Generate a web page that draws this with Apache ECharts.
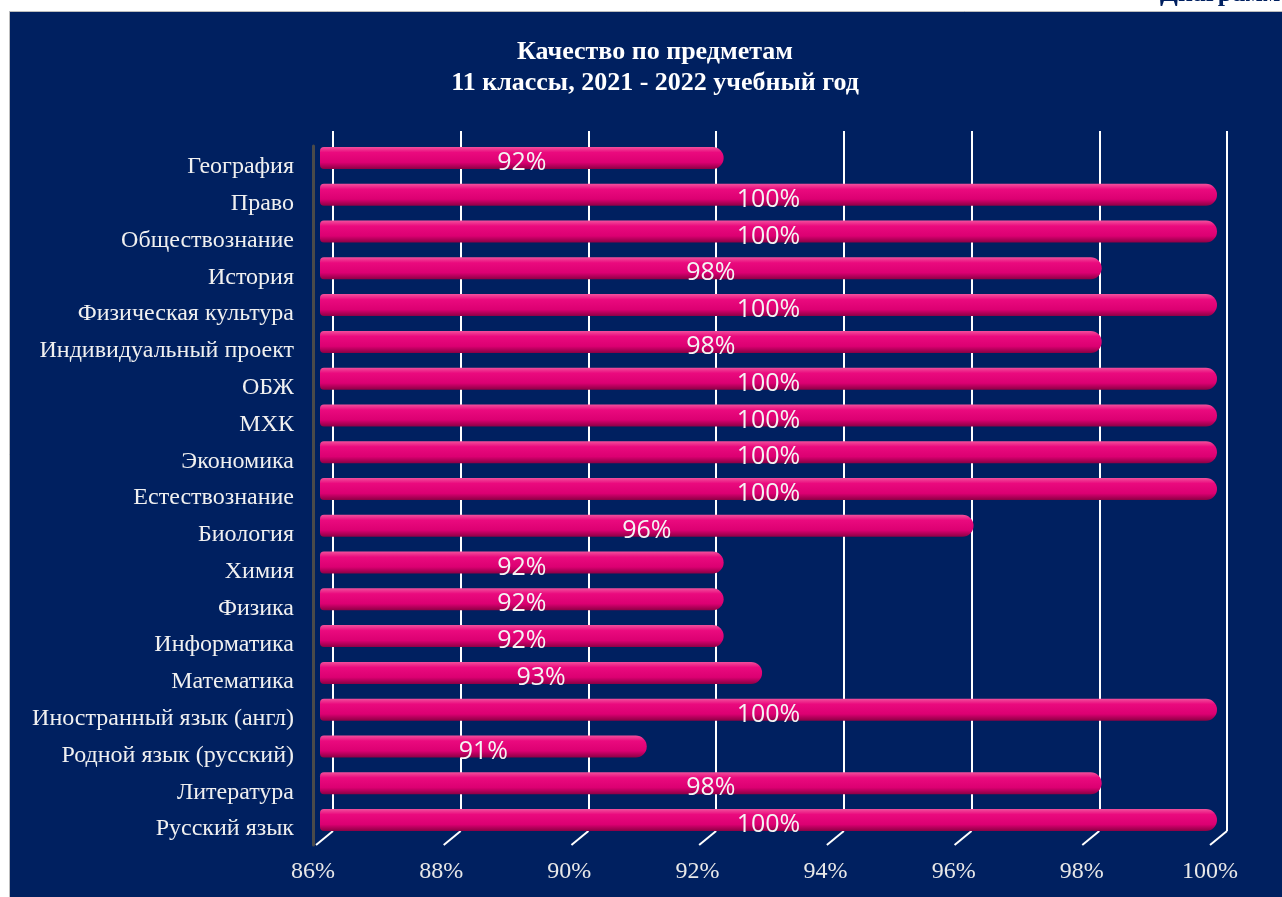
<!DOCTYPE html>
<html>
<head>
<meta charset="utf-8">
<script src="https://cdn.jsdelivr.net/npm/echarts@6/dist/echarts.min.js"></script>
<style>
	html, body { margin: 0; padding: 0; background: #ffffff; }
	#chart { width: 1282px; height: 897px; }
</style>
</head>
<body>
<div id="chart"></div>
<script>
// предметы сверху вниз
var subjects = ['География', 'Право', 'Обществознание', 'История', 'Физическая культура',
	'Индивидуальный проект', 'ОБЖ', 'МХК', 'Экономика', 'Естествознание', 'Биология',
	'Химия', 'Физика', 'Информатика', 'Математика', 'Иностранный язык (англ)',
	'Родной язык (русский)', 'Литература', 'Русский язык'];
// качество, %
var quality = [92.3, 100, 100, 98.2, 100, 98.2, 100, 100, 100, 100, 96.2,
	92.3, 92.3, 92.3, 92.9, 100, 91.1, 98.2, 100];
var axisTicks = [86, 88, 90, 92, 94, 96, 98, 100];

var serif = '"Liberation Serif", "DejaVu Serif", serif';

function loadChart(){
	var chart = echarts.init(document.getElementById('chart'));
	var option = {
		backgroundColor: '#ffffff',
		animation: false,
		title: {
			text: 'Качество по предметам\n11 классы, 2021 - 2022 учебный год',
			left: 650,
			top: 32,
			textAlign: 'center',
			textStyle: {
				color: '#ffffff',
				fontFamily: serif,
				fontWeight: 'bold',
				fontSize: 26,
				lineHeight: 31
			}
		},
		graphic: [
			{
				type: 'rect', z: -10, silent: true,
				shape: { x: 9.5, y: 11.5, width: 1290, height: 900 },
				style: { fill: '#002060', stroke: '#bdbdbd', lineWidth: 1 }
			},
			{
				type: 'text', z: -5, silent: true,
				x: 1160, y: 7,
				style: {
					text: 'Диаграмма',
					fill: '#002060',
					font: 'bold 26px ' + serif,
					textVerticalAlign: 'bottom'
				}
			}
		],
		grid: [
			// полосы
			{ left: 320, width: 897, top: 139.6, height: 698.8 },
			// задняя стенка
			{ left: 333, width: 894, top: 131, height: 700 },
			// передняя ось
			{ left: 313, width: 897, top: 146, height: 699 },
			// подписи предметов (чуть ниже полос)
			{ left: 320, width: 897, top: 148.6, height: 698.8 }
		],
		xAxis: [
			{ gridIndex: 0, type: 'value', min: 86, max: 100, interval: 2, show: false },
			{
				gridIndex: 1, type: 'value', min: 86, max: 100, interval: 2,
				axisLine: { show: false }, axisTick: { show: false }, axisLabel: { show: false },
				splitLine: { show: true, showMinLine: true, showMaxLine: true, lineStyle: { color: '#ffffff', width: 2 } }
			},
			{
				gridIndex: 2, type: 'value', min: 86, max: 100, interval: 2,
				axisLine: { show: false }, axisTick: { show: false }, splitLine: { show: false },
				axisLabel: {
					margin: 15,
					color: '#e8e8e8',
					fontFamily: serif,
					fontSize: 24,
					formatter: '{value}%'
				}
			},
			{ gridIndex: 3, type: 'value', min: 86, max: 100, interval: 2, show: false }
		],
		yAxis: [
			{ gridIndex: 0, type: 'category', inverse: true, data: subjects, show: false },
			{ gridIndex: 1, type: 'value', min: 0, max: 1, show: false },
			{
				gridIndex: 2, type: 'value', min: 0, max: 1,
				axisLine: { show: true, lineStyle: { color: '#4a4a4a', width: 3 } },
				axisTick: { show: false }, axisLabel: { show: false }, splitLine: { show: false }
			},
			{
				gridIndex: 3, type: 'category', inverse: true, data: subjects,
				axisLine: { show: false }, axisTick: { show: false }, splitLine: { show: false },
				axisLabel: {
					margin: 26,
					color: '#f0f0f0',
					fontFamily: serif,
					fontSize: 24
				}
			}
		],
		series: [
			{
				// косые риски пола
				type: 'custom',
				xAxisIndex: 1,
				yAxisIndex: 1,
				silent: true,
				z: 1,
				data: axisTicks,
				renderItem: function(params, api){
					var p = api.coord([api.value(0), 0]);
					return {
						type: 'polyline',
						shape: { points: [[p[0], p[1]], [p[0] - 17, p[1] + 14]] },
						style: { stroke: '#ffffff', lineWidth: 2, fill: null }
					};
				}
			},
			{
				name: 'Качество',
				type: 'bar',
				xAxisIndex: 0,
				yAxisIndex: 0,
				z: 3,
				data: quality,
				barWidth: 22,
				itemStyle: {
					borderRadius: [4, 11, 11, 4],
					color: new echarts.graphic.LinearGradient(0, 0, 0, 1, [
						{ offset: 0, color: '#f2509c' },
						{ offset: 0.25, color: '#ea0a7e' },
						{ offset: 0.7, color: '#dc0072' },
						{ offset: 1, color: '#8c0044' }
					])
				},
				label: {
					show: true,
					position: 'inside',
					offset: [0, 5],
					color: '#f4f4f4',
					fontFamily: '"Open Sans", "Liberation Sans", sans-serif',
					fontSize: 25,
					formatter: function(p){ return Math.round(p.value) + '%'; }
				}
			}
		]
	};
	chart.setOption(option);
}
loadChart();
</script>
</body>
</html>
